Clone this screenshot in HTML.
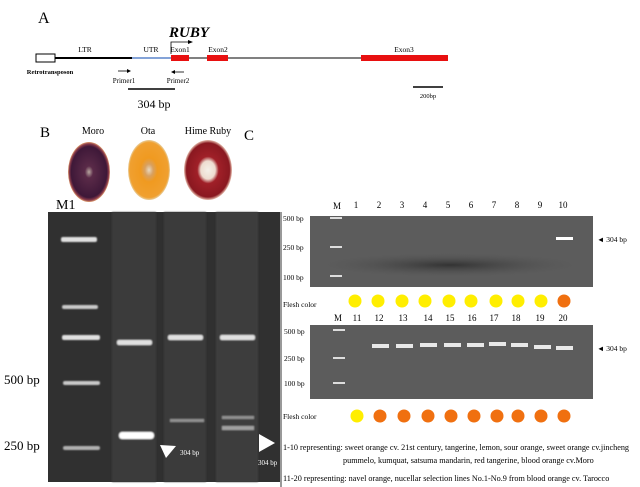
<!DOCTYPE html>
<html><head><meta charset="utf-8"><style>
html,body{margin:0;padding:0;background:#fff;}
svg{display:block;font-family:"Liberation Serif",serif;}
</style></head><body>
<svg width="640" height="487" viewBox="0 0 640 487" xmlns="http://www.w3.org/2000/svg">
<defs>
<radialGradient id="moro" cx="50%" cy="50%" r="50%"><stop offset="0" stop-color="#b9a7a0"/><stop offset="0.2" stop-color="#5a2a48"/><stop offset="0.85" stop-color="#3e1838"/><stop offset="0.94" stop-color="#8a3a4a"/><stop offset="1" stop-color="#e0a070"/></radialGradient>
<radialGradient id="ota" cx="50%" cy="50%" r="50%"><stop offset="0" stop-color="#e8d8c0"/><stop offset="0.2" stop-color="#d8a060"/><stop offset="0.4" stop-color="#f09a20"/><stop offset="0.92" stop-color="#f0a030"/><stop offset="1" stop-color="#e8d0a0"/></radialGradient>
<radialGradient id="hime" cx="50%" cy="50%" r="50%"><stop offset="0" stop-color="#f4f0e8"/><stop offset="0.3" stop-color="#eedcd0"/><stop offset="0.45" stop-color="#a02028"/><stop offset="0.9" stop-color="#8a1820"/><stop offset="1" stop-color="#e8c0b0"/></radialGradient>
<radialGradient id="smear"><stop offset="0" stop-color="#333"/><stop offset="1" stop-color="#555" stop-opacity="0"/></radialGradient>
<filter id="bl"><feGaussianBlur stdDeviation="0.8"/></filter>
</defs>
<text x="38" y="23" font-size="16">A</text>
<text x="169" y="37" font-size="15" font-weight="bold" font-style="italic">RUBY</text>
<rect x="36" y="54" width="19" height="8" fill="#fff" stroke="#000" stroke-width="1"/>
<line x1="55" y1="58" x2="132" y2="58" stroke="#000" stroke-width="2"/>
<line x1="132" y1="58" x2="171" y2="58" stroke="#3a6cc0" stroke-width="1.2"/>
<line x1="171" y1="58" x2="448" y2="58" stroke="#000" stroke-width="1"/>
<rect x="171" y="55" width="18" height="6" fill="#e81010"/>
<rect x="207" y="55" width="21" height="6" fill="#e81010"/>
<rect x="361" y="55" width="87" height="6" fill="#e81010"/>
<polyline points="171,54 171,42 190,42" fill="none" stroke="#000" stroke-width="0.8"/>
<polygon points="193,42 188,40 188,44" fill="#000"/>
<text x="85" y="52" font-size="7.5" text-anchor="middle">LTR</text>
<text x="151" y="52" font-size="7.5" text-anchor="middle">UTR</text>
<text x="180" y="52" font-size="7.5" text-anchor="middle">Exon1</text>
<text x="218" y="52" font-size="7.5" text-anchor="middle">Exon2</text>
<text x="404" y="52" font-size="7.5" text-anchor="middle">Exon3</text>
<text x="50" y="74" font-size="6.5" font-weight="bold" text-anchor="middle">Retrotransposon</text>
<line x1="118" y1="71" x2="129" y2="71" stroke="#000" stroke-width="0.8"/><polygon points="131,71 127,69 127,73"/>
<text x="124" y="83" font-size="7" text-anchor="middle">Primer1</text>
<line x1="173" y1="72" x2="184" y2="72" stroke="#000" stroke-width="0.8"/><polygon points="171,72 175,70 175,74"/>
<text x="178" y="83" font-size="7" text-anchor="middle">Primer2</text>
<line x1="128" y1="89" x2="175" y2="89" stroke="#000" stroke-width="1.5"/>
<text x="154" y="108" font-size="12" text-anchor="middle">304 bp</text>
<line x1="413" y1="87" x2="443" y2="87" stroke="#000" stroke-width="1.5"/>
<text x="428" y="98" font-size="6.5" text-anchor="middle">200bp</text>
<text x="40" y="137" font-size="15">B</text>
<text x="244" y="140" font-size="15">C</text>
<text x="93" y="134" font-size="10" text-anchor="middle">Moro</text>
<text x="148" y="134" font-size="10" text-anchor="middle">Ota</text>
<text x="208" y="134" font-size="10" text-anchor="middle">Hime Ruby</text>
<ellipse cx="89" cy="172" rx="21" ry="30" fill="url(#moro)"/>
<ellipse cx="149" cy="170" rx="21" ry="30" fill="url(#ota)"/>
<ellipse cx="208" cy="170" rx="24" ry="30" fill="url(#hime)"/>
<text x="56" y="209" font-size="14">M1</text>
<rect x="48" y="212" width="232" height="270" fill="#303030"/>
<g filter="url(#bl)">
<rect x="112" y="212" width="44" height="270" fill="#3a3a3a"/>
<rect x="164" y="212" width="42" height="270" fill="#3b3b3b"/>
<rect x="216" y="212" width="42" height="270" fill="#3d3d3d"/>
<g fill="#e0e0e0">
<rect x="61" y="237" width="36" height="5" rx="2"/>
<rect x="62" y="305" width="36" height="4" rx="2" fill="#c8c8c8"/>
<rect x="62" y="335" width="38" height="5" rx="2"/>
<rect x="63" y="381" width="37" height="4" rx="2" fill="#c8c8c8"/>
<rect x="63" y="446" width="37" height="4" rx="2" fill="#b0b0b0"/>
<rect x="117" y="340" width="35" height="5" rx="2"/>
<rect x="168" y="335" width="35" height="5" rx="2"/>
<rect x="220" y="335" width="35" height="5" rx="2"/>
<rect x="119" y="432" width="35" height="7" rx="3" fill="#fff"/>
<rect x="170" y="419" width="34" height="3" fill="#909090"/>
<rect x="222" y="416" width="32" height="3" fill="#909090"/>
<rect x="222" y="426" width="32" height="4" fill="#a0a0a0"/>
</g></g>
<polygon points="160,445 176,446 166,458" fill="#fff"/>
<text x="180" y="455" font-size="7" fill="#fff">304 bp</text>
<polygon points="259,434 275,443 259,452" fill="#fff"/>
<text x="258" y="465" font-size="7" fill="#fff">304 bp</text>
<text x="4" y="384" font-size="13">500 bp</text>
<text x="4" y="450" font-size="13">250 bp</text>
<line x1="281" y1="212" x2="281" y2="487" stroke="#333" stroke-width="1"/>
<g font-size="9" text-anchor="middle">
<text x="337" y="209">M</text>
<text x="356" y="208">1</text><text x="379" y="208">2</text><text x="402" y="208">3</text><text x="425" y="208">4</text><text x="448" y="208">5</text><text x="471" y="208">6</text><text x="494" y="208">7</text><text x="517" y="208">8</text><text x="540" y="208">9</text><text x="563" y="208">10</text>
<text x="338" y="321">M</text>
<text x="357" y="321">11</text><text x="379" y="321">12</text><text x="403" y="321">13</text><text x="428" y="321">14</text><text x="450" y="321">15</text><text x="472" y="321">16</text><text x="494" y="321">17</text><text x="516" y="321">18</text><text x="540" y="321">19</text><text x="563" y="321">20</text>
</g>
<rect x="310" y="216" width="283" height="71" fill="#5c5c5c"/>
<ellipse cx="450" cy="265" rx="130" ry="12" fill="url(#smear)"/>
<g fill="#ddd"><rect x="330" y="217" width="12" height="2"/><rect x="330" y="246" width="12" height="2"/><rect x="330" y="275" width="12" height="2"/><rect x="556" y="237" width="17" height="3" fill="#fff"/></g>
<rect x="310" y="325" width="283" height="74" fill="#5c5c5c"/>
<g fill="#ddd"><rect x="333" y="329" width="12" height="2"/><rect x="333" y="357" width="12" height="2"/><rect x="333" y="382" width="12" height="2"/></g>
<g fill="#e8e8e8">
<rect x="372" y="344" width="17" height="4"/><rect x="396" y="344" width="17" height="4"/><rect x="420" y="343" width="17" height="4"/><rect x="444" y="343" width="17" height="4"/><rect x="467" y="343" width="17" height="4"/><rect x="489" y="342" width="17" height="4"/><rect x="511" y="343" width="17" height="4"/><rect x="534" y="345" width="17" height="4"/><rect x="556" y="346" width="17" height="4"/>
</g>
<g font-size="7.5">
<text x="283" y="221">500 bp</text><text x="283" y="250">250 bp</text><text x="283" y="280">100 bp</text>
<text x="283" y="307">Flesh color</text>
<text x="284" y="334">500 bp</text><text x="284" y="361">250 bp</text><text x="284" y="386">100 bp</text>
<text x="283" y="419">Flesh color</text>
<text x="597" y="242">◄ 304 bp</text>
<text x="597" y="351">◄ 304 bp</text>
</g>
<g font-size="8.2">
<text x="283" y="450">1-10 representing: sweet orange cv. 21st century, tangerine, lemon, sour orange, sweet orange cv.jincheng</text>
<text x="343" y="463">pummelo, kumquat, satsuma mandarin, red tangerine, blood orange cv.Moro</text>
<text x="283" y="481">11-20 representing: navel orange, nucellar selection lines No.1-No.9 from blood orange cv. Tarocco</text>
</g>
<g fill="#ffee00">
<circle cx="355" cy="301" r="6.5"/><circle cx="378" cy="301" r="6.5"/><circle cx="402" cy="301" r="6.5"/><circle cx="425" cy="301" r="6.5"/><circle cx="449" cy="301" r="6.5"/><circle cx="471" cy="301" r="6.5"/><circle cx="496" cy="301" r="6.5"/><circle cx="518" cy="301" r="6.5"/><circle cx="541" cy="301" r="6.5"/>
<circle cx="357" cy="416" r="6.5"/>
</g>
<g fill="#f07010">
<circle cx="564" cy="301" r="6.5"/>
<circle cx="380" cy="416" r="6.5"/><circle cx="404" cy="416" r="6.5"/><circle cx="428" cy="416" r="6.5"/><circle cx="451" cy="416" r="6.5"/><circle cx="474" cy="416" r="6.5"/><circle cx="497" cy="416" r="6.5"/><circle cx="518" cy="416" r="6.5"/><circle cx="564" cy="416" r="6.5"/><circle cx="541" cy="416" r="6.5"/>
</g>
</svg>
</body></html>
